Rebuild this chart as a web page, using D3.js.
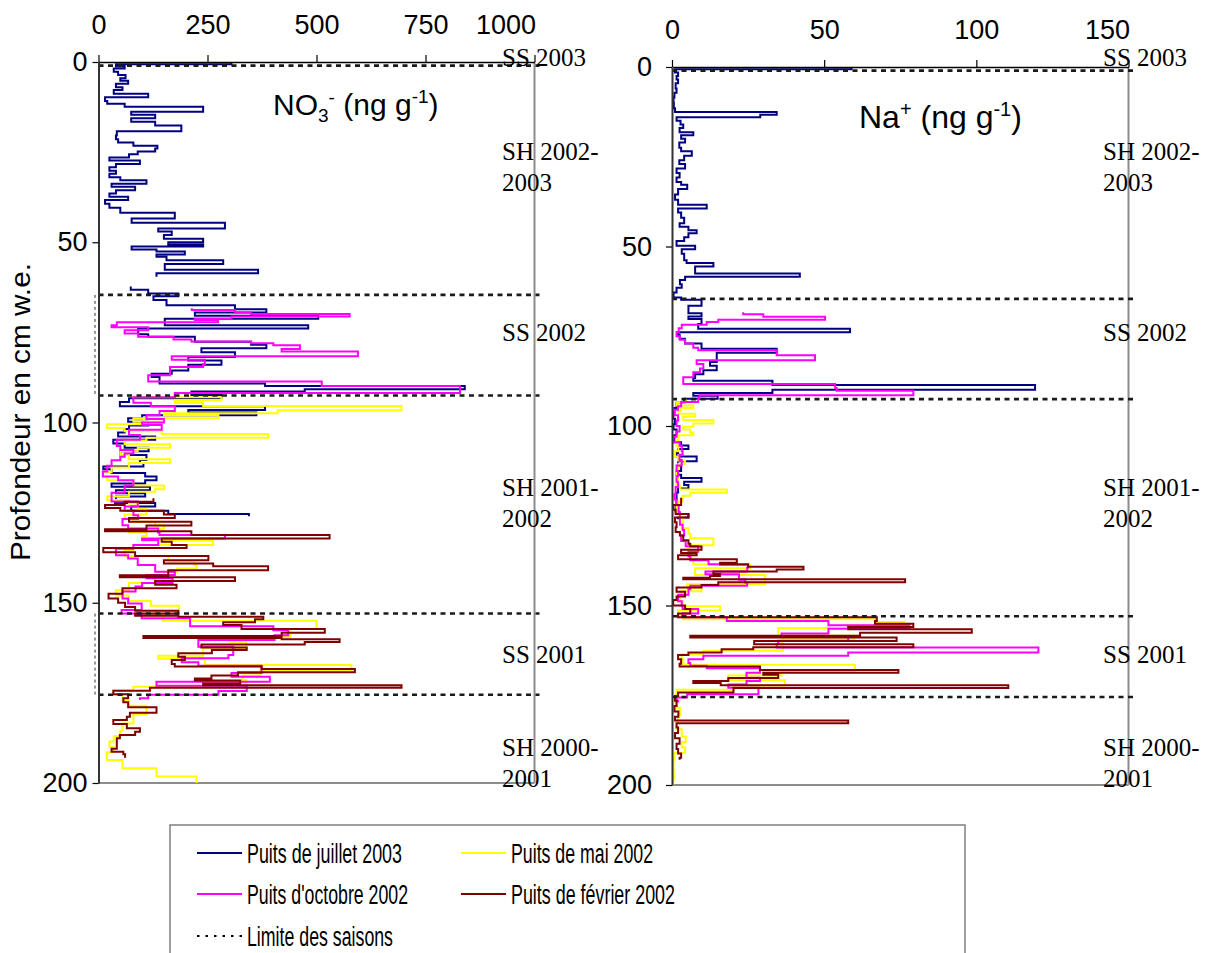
<!DOCTYPE html>
<html><head><meta charset="utf-8">
<script src="https://cdn.jsdelivr.net/npm/d3@7"></script>
<style>body{margin:0;background:#fff}svg{display:block}</style>
</head><body>
<svg id="chart" width="1214" height="953"></svg>
<script>
// ---------- DATA ----------
const depthTicks = [0, 50, 100, 150, 200];
const no3Ticks = [0, 250, 500, 750, 1000];
const naTicks = [0, 50, 100, 150];
const seasonDepths = [1, 64.6, 92.5, 153, 175.5];
const seasonLabels = [
  {lines: ["SS 2003"], depth: -1.1},
  {lines: ["SH 2002-", "2003"], depth: 25},
  {lines: ["SS 2002"], depth: 75.2},
  {lines: ["SH 2001-", "2002"], depth: 118.2},
  {lines: ["SS 2001"], depth: 164.5},
  {lines: ["SH 2000-", "2001"], depth: 190.3}
];
const seriesNames = ["Puits de juillet 2003", "Puits de mai 2002", "Puits d'octobre 2002", "Puits de février 2002"];
const seriesColors = ["#000080", "#FFFF00", "#FF00FF", "#800000"];
const seriesEnd = [126, 200, 177, 193];

// [depth top (cm w.e.), value (ng/g)]
const no3Juillet2003 = [[0,305],[0.6,40],[1.2,60],[1.8,35],[2.7,45],[3.6,62],[4.5,50],[5.2,68],[6,40],[7,55],[7.8,35],[8.8,114],[9.8,15],[10.8,20],[11.6,60],[12.4,240],[13.8,75],[14.6,130],[15.6,75],[16.6,130],[17.6,190],[19.2,42],[20.4,40],[21.4,45],[22.3,80],[23.2,135],[24,130],[24.8,90],[25.6,70],[26.5,25],[27.3,95],[28.3,40],[29.2,25],[30.2,40],[31,25],[32,50],[32.8,110],[33.8,30],[34.6,84],[35.6,40],[36.5,25],[37.4,68],[38.3,15],[39.3,25],[40.4,50],[41.8,175],[43.4,76],[44.6,290],[46.2,137],[47,168],[48,150],[49,240],[50,160],[50.6,240],[51.2,76],[52,133],[52.6,198],[53.4,133],[54,156],[55,286],[56,152],[57.6,366],[58.6,133],[59.6,NaN],[62.3,74],[63.2,114],[64.2,183],[65,126],[66,156],[67.5,313],[68.6,385],[69.5,221],[70.4,504],[71.2,152],[73,481],[73.9,91],[75.5,114],[76.2,221],[77.6,350],[78.4,385],[79.4,236],[80.5,313],[81.8,206],[82.8,282],[84,206],[85.6,168],[86.5,122],[87.4,140],[89.2,382],[89.9,840],[90.8,473],[91.4,213],[92.4,282],[93.3,70],[94.3,49],[95.5,382],[96.5,206],[97.2,362],[98,100],[98.8,68],[99.8,114],[100.8,70],[101.8,60],[102.8,45],[103.9,130],[104.8,34],[105.8,60],[107,115],[108,50],[109,110],[110.4,95],[111.2,103],[112.2,11],[113,30],[114,107],[115,133],[116,107],[116.9,30],[117.8,118],[118.8,40],[119.6,107],[120.5,40],[121.5,38],[122.3,130],[123.3,75],[124.5,160],[125.4,345]];
const no3Mai2002 = [[92.4,80],[93,282],[93.8,175],[94.5,240],[95.4,695],[96.6,411],[97.4,150],[98,275],[98.8,80],[99.8,145],[100.5,20],[101.5,60],[102.4,145],[103.2,389],[104.2,110],[105,60],[106,164],[107,90],[108,50],[109,70],[110.2,164],[111.2,70],[112.5,30],[113.8,10],[115,20],[116,80],[117.5,150],[118.5,130],[119.2,70],[120.5,20],[121.5,70],[122.5,90],[124,110],[125.5,60],[126.5,80],[127.5,130],[128.5,150],[129.5,70],[130.5,110],[131.5,100],[132.8,263],[134,80],[135.5,60],[137,160],[138.5,220],[139.5,225],[140.5,180],[141.5,150],[142.5,130],[144.5,70],[146.5,40],[148,70],[149.5,120],[150.8,185],[152.3,130],[153.4,148],[155,500],[157.3,430],[158,440],[159.5,300],[160.8,339],[162.5,240],[164.7,137],[165.5,244],[167.3,580],[168.8,371],[170.2,330],[171.5,339],[172.2,240],[173.3,80],[174.3,34],[175.5,55],[177.2,70],[178.6,110],[181,80],[183.5,55],[185.5,50],[187,35],[188.5,25],[190,35],[191.5,19],[193.6,55],[195.9,133],[198.2,225]];
const no3Octobre2002 = [[68.3,214],[68.8,313],[69.5,350],[69.9,576],[70.6,305],[71.2,221],[71.6,274],[72.2,42],[73,30],[73.6,114],[74.4,60],[75.3,91],[76.2,172],[77,213],[77.5,350],[78,401],[78.6,462],[79.6,420],[80.3,595],[81.6,168],[82.6,244],[83.8,240],[84.6,164],[85.9,164],[86.9,114],[88.6,512],[89.9,829],[91.8,175],[93,80],[94.5,120],[95.5,175],[96.8,140],[98,110],[99,150],[100,100],[100.7,145],[102,70],[103.5,95],[104.8,42],[106.5,50],[107.6,80],[108.6,60],[109.5,50],[110.5,30],[112,20],[113.6,10],[115,45],[116,80],[117.5,60],[119.5,30],[121.9,90],[123.3,60],[124.5,80],[125.7,91],[126.8,55],[128.5,68],[129.4,137],[130.5,140],[131.2,290],[132.2,100],[132.6,137],[134,80],[135,40],[136.8,68],[137.7,90],[139.5,130],[141.4,175],[142.3,110],[143.2,170],[144.5,100],[145.5,85],[146.9,55],[148.8,68],[150.2,99],[152,53],[153,99],[154.3,210],[156.5,401],[157.6,435],[159,404],[160.3,229],[162.2,309],[164.5,298],[165.4,191],[166.5,229],[167.5,374],[169.5,305],[170.5,393],[171.9,133],[173,340],[174.5,275],[175.5,114],[176.5,95]];
const no3Fevrier2002 = [[121,126],[122,60],[122.9,15],[123.7,50],[124.5,150],[125.5,175],[126.5,70],[127.5,213],[128.6,110],[129.6,15],[130.2,213],[131.2,530],[132.2,145],[133.1,168],[134,202],[134.8,11],[136,84],[137,252],[138.2,150],[139.1,263],[139.9,389],[141,160],[142.4,49],[142.9,313],[144,130],[145,179],[146,55],[147.5,23],[148.8,45],[150,61],[151.2,84],[152.2,183],[153,84],[153.6,183],[153.9,378],[154.6,359],[155.4,286],[156.2,328],[157.3,519],[158.3,420],[159.2,103],[159.8,420],[160.1,553],[160.9,473],[161.6,236],[162.4,340],[163.1,260],[164,183],[165,198],[165.9,168],[167,175],[167.7,374],[168.4,588],[169.3,320],[170.2,259],[171,221],[171.6,325],[172.4,240],[172.9,695],[173.6,118],[174.4,34],[175.4,68],[176.5,57],[177.6,68],[179,133],[180.5,72],[181.6,65],[182.5,34],[183.6,65],[184.8,95],[185.8,84],[186.7,49],[187.6,42],[189,42],[190.5,30],[191.3,57],[192,61]];

const naJuillet2003 = [[0,59],[0.6,1],[1.5,2],[2.5,1.5],[3.5,2],[4.5,1.2],[6,1.5],[7.2,0.8],[8.5,0.5],[10,0.6],[11.5,1],[12.5,34.4],[13.3,29],[14,1.5],[15,2.8],[16,3.7],[17,2.5],[18.2,7],[19,3],[20,4.3],[21,2.4],[22.5,3],[23.5,6.5],[24.7,4],[26,2.4],[27,4.3],[28.3,1.5],[29.5,2.5],[30.8,1.5],[32,3],[32.8,5],[34,2],[35.5,1],[37,2],[38.4,11.4],[39.4,2],[40.5,3],[42,4],[43.5,2.5],[44.5,5.4],[45.5,8.1],[46.3,5.4],[47.4,4],[48.5,1.5],[49.8,7.6],[50.8,3.2],[52,4],[53.8,4.8],[54.6,13.6],[55.6,7.6],[56.5,7.6],[57.5,42],[58.4,4.3],[59.3,2.6],[60.5,3.2],[61.5,1.5],[62.8,0.5],[64.2,3],[64.8,9.7],[66.5,5.4],[67.8,5.4],[68.6,9.7],[69.5,5.4],[70.2,9.7],[71.6,8.6],[72.9,58.5],[73.9,2],[74.6,2.5],[75.7,4.3],[77,9.7],[78.5,34.4],[79.6,14.7],[81,14.7],[82.2,12.5],[83.2,14.7],[84.5,10.3],[85.6,7.6],[86.6,7],[87.4,33],[88.6,119.3],[89.9,33],[90.8,7],[91.6,15],[92.4,4],[93.5,1.5],[95,0.8],[96.5,0.4],[98,1],[99.5,0.5],[101,1.5],[102.6,0.8],[104.5,3],[105.4,5.4],[106.4,2],[107.5,1.5],[108.5,8.1],[109.8,2],[111,3],[112.5,1.5],[113.6,3],[114.5,9.7],[115.5,4],[116.4,5.4],[117.4,2],[118.5,1.5],[120,1.5],[122,1.2],[123.8,2],[124.5,5.4],[125.5,2]];
const naMai2002 = [[92.4,4.5],[93.5,1.5],[94.3,7],[95,3],[95.8,2],[96.6,7.6],[97.4,3.7],[98.3,13.6],[99.3,7],[100.2,3.7],[101,6],[101.8,7],[102.6,2],[104,1.5],[105.5,2.1],[107,1],[108.5,2],[109.6,4.3],[110.5,2.1],[112,1.5],[113.8,2],[115,1.5],[116.5,2.6],[117.7,18],[118.6,6],[119.4,3.5],[121,2],[122.5,1.5],[124,2.5],[125.5,3.7],[127,3.2],[128.5,5.4],[130,6],[131.3,13.6],[133.2,5.4],[134.5,5.4],[135.8,6],[137,7],[138.6,25.6],[139.6,7.6],[141.5,30.6],[144.1,5],[145,9.7],[146,3],[147.4,2.5],[148.8,3.7],[150.2,15.8],[151.4,2],[152.5,3.7],[153.8,67.3],[154.6,76.4],[155.6,57.9],[156.3,34.9],[158.4,60],[159.5,36],[161,36.5],[162.6,10.3],[163.6,3.2],[165,3.7],[166.5,60.1],[168.3,36],[169.5,18.5],[170.8,37.1],[172.3,20.2],[173.5,1.5],[174.8,1.2],[177,1.5],[178.5,2.6],[180.5,2],[182.5,1.5],[184.5,3.2],[186.5,4.5],[188,3.2],[189.5,4.3],[191,0.8],[193,0.5],[196,0.6],[198.5,0.4]];
const naOctobre2002 = [[68.3,23.4],[68.9,30],[69.6,50.3],[70.4,15.2],[71,11.4],[71.8,3.2],[72.8,2.2],[73.8,1.5],[75,2.6],[76,4.3],[77,7],[78.2,8.6],[78.9,34.4],[80.3,47],[81.7,8.1],[82.7,10.3],[84,9.2],[85,7],[86.4,3.7],[88.3,53.6],[89.4,54.1],[90.2,79.3],[91.4,9],[92.2,8.6],[93.3,3],[94.5,2],[95.5,0.8],[97,2],[98.5,1.5],[100,2.5],[101.5,1.5],[103,0.5],[104.5,2.5],[105.5,3.2],[107,3.5],[108,2.5],[109.5,3.2],[111,1.5],[112.5,2],[114,1.5],[115.5,2],[117,1.2],[119,0.8],[120.5,1.5],[122,2.2],[124,2.6],[126,2.6],[127.5,3.5],[129,4],[130.5,3],[132,4.5],[133.5,8.6],[135,5.4],[136.3,6],[137.4,12],[138.5,25],[139.5,24.7],[140.5,11],[141.3,22],[142.8,24],[143.6,24.7],[144.5,6],[145.5,5.4],[147,2],[148.8,3.2],[150.2,3.5],[151,8.6],[152.2,3.5],[153.3,18],[154.3,51.4],[155.5,78],[156.5,51.4],[157.8,36],[158.5,57.9],[159.8,34.9],[160.8,34.4],[161.7,120.4],[163.1,57.9],[164,10.3],[165,5.4],[166,6],[166.8,11.4],[167.5,28.9],[168.7,24.5],[170.1,28.9],[171,24.5],[172,18.5],[172.9,28.4],[174.7,5],[175.6,1.5],[176.5,2]];
const naFevrier2002 = [[120,3],[122,0.4],[123.3,1.2],[124.5,5.4],[125.5,1],[126.8,1.5],[128.2,1.2],[129.5,2.6],[130.5,3.7],[131.8,5.4],[132.8,6],[133.6,9.7],[134.5,3],[135.4,8.1],[136,2],[137.1,21.3],[138.1,15.8],[138.6,25],[139.2,43.2],[140,34.4],[140.5,13.6],[141.2,15.8],[141.8,12.5],[142.3,3.7],[142.7,76.6],[143.5,15.2],[144.3,9.7],[145,1.5],[146.2,4.3],[147.5,1.5],[148.5,0.4],[150,4.3],[151,6],[152.2,2],[153.3,67.3],[154.3,66.7],[155.1,79.3],[156,57.9],[156.6,98.5],[157.6,61.8],[158.4,6],[158.9,73.8],[159.9,27],[160.8,79.3],[161.6,26.7],[162.2,16.3],[163.1,5.4],[163.8,2],[165,3],[166.2,2.5],[167,28.9],[168,74.4],[168.7,30],[169.3,34.9],[170.2,18.5],[171,7],[171.6,16],[172.2,110.5],[173,20.2],[174.2,2],[175.2,1],[176.5,1.5],[178,0.8],[179.5,2.1],[181,1],[182,57.9],[182.8,1.5],[184,2],[185.5,1],[187,2.5],[188.5,1.5],[190,2],[191.2,3],[192.4,2.5]];

// ---------- DRAW ----------
const svg = d3.select("#chart");
const FONT = "'Liberation Sans', Arial, sans-serif";
const SERIF = "'Liberation Serif', 'Times New Roman', serif";

function stepPoints(samples, endDepth) {
  const pts = [];
  for (let i = 0; i < samples.length; i++) {
    const [d, v] = samples[i];
    const next = samples[i + 1];
    pts.push([d, v]);
    if (!isNaN(v) && (next === undefined || isNaN(next[1]))) {
      pts.push([next ? next[0] : endDepth, v]);
    }
  }
  return pts;
}

function panel(cfg) {
  const g = svg.append("g");
  const x = d3.scaleLinear().domain(cfg.domain).range(cfg.xRange);
  const y = d3.scaleLinear().domain([0, 200]).range(cfg.yRange);

  g.append("line").attr("x1", x.range()[1]).attr("x2", x.range()[1]).attr("y1", y(0)).attr("y2", y(200))
    .attr("stroke", "#8c8c8c").attr("stroke-width", 2);
  g.append("line").attr("x1", x.range()[0]).attr("x2", x.range()[1]).attr("y1", y(200)).attr("y2", y(200))
    .attr("stroke", "#8c8c8c").attr("stroke-width", 2);

  const line = d3.line()
    .defined(p => !isNaN(p[1]))
    .x(p => x(p[1])).y(p => y(p[0]))
    .curve(d3.curveStepBefore);

  cfg.series.forEach((s, i) => {
    g.append("path")
      .attr("d", line(stepPoints(s, seriesEnd[i])))
      .attr("fill", "none")
      .attr("stroke", seriesColors[i])
      .attr("stroke-width", 2);
  });

  seasonDepths.forEach(d => {
    g.append("line")
      .attr("x1", x.range()[0]).attr("x2", x.range()[1] + cfg.dashExtra)
      .attr("y1", y(d)).attr("y2", y(d))
      .attr("stroke", "#1a1a1a").attr("stroke-width", 2.6)
      .attr("stroke-dasharray", "5,4.5");
  });

  const top = g.append("g").attr("transform", `translate(0,${y(0)})`)
    .call(d3.axisTop(x).tickValues(cfg.ticks).tickSize(7).tickSizeOuter(0).tickPadding(21).tickFormat(d3.format("d")));
  top.select(".domain").attr("stroke", "#000").attr("stroke-width", 1.5);
  top.selectAll(".tick line").attr("stroke", "#000").attr("stroke-width", 1.2);
  top.selectAll(".tick text").attr("font-family", FONT).attr("font-size", 27).attr("fill", "#000");
  top.selectAll(".tick:last-of-type text").attr("text-anchor", "end").attr("x", 1);

  const left = g.append("g").attr("transform", `translate(${x.range()[0]},0)`)
    .call(d3.axisLeft(y).tickValues(depthTicks).tickSize(6).tickSizeOuter(0).tickPadding(cfg.yPad).tickFormat(d3.format("d")));
  left.select(".domain").attr("stroke", "#333").attr("stroke-width", 2);
  left.selectAll(".tick line").attr("stroke", "#000").attr("stroke-width", 1.2);
  left.selectAll(".tick text").attr("font-family", FONT).attr("font-size", 27).attr("fill", "#000");

  const yl = d3.scaleLinear().domain([0, 200]).range([62, 783]);
  seasonLabels.forEach(s => {
    s.lines.forEach((t, k) => {
      g.append("text").attr("x", cfg.labelX).attr("y", yl(s.depth) + 8 + k * 31)
        .attr("font-family", SERIF).attr("font-size", 25).attr("fill", "#000").text(t);
    });
  });
  return {x, y, g};
}

const P1 = panel({domain: [0, 1000], xRange: [98.5, 534.5], yRange: [62, 783], ticks: no3Ticks,
  series: [no3Juillet2003, no3Mai2002, no3Octobre2002, no3Fevrier2002], labelX: 502, yPad: 5, dashExtra: 5});
const P2 = panel({domain: [0, 150], xRange: [672, 1128.5], yRange: [67, 785], ticks: naTicks,
  series: [naJuillet2003, naMai2002, naOctobre2002, naFevrier2002], labelX: 1103, yPad: 14, dashExtra: 5});

[[seasonDepths[1], seasonDepths[2]], [seasonDepths[3], seasonDepths[4]]].forEach(([a, b]) => {
  svg.append("line").attr("x1", 95).attr("x2", 95).attr("y1", P1.y(a)).attr("y2", P1.y(b))
    .attr("stroke", "#333").attr("stroke-width", 1).attr("stroke-dasharray", "3,3");
});

// panel titles
const t1 = svg.append("text").attr("x", 273).attr("y", 115).attr("font-family", FONT).attr("font-size", 30).attr("fill", "#000");
t1.append("tspan").text("NO");
t1.append("tspan").attr("font-size", 19).attr("dy", 7).text("3");
t1.append("tspan").attr("font-size", 19).attr("dy", -18).text("-");
t1.append("tspan").attr("dy", 11).text(" (ng g");
t1.append("tspan").attr("font-size", 19).attr("dy", -12).text("-1");
t1.append("tspan").attr("dy", 12).text(")");

const t2 = svg.append("text").attr("x", 859).attr("y", 128).attr("font-family", FONT).attr("font-size", 32).attr("fill", "#000");
t2.append("tspan").text("Na");
t2.append("tspan").attr("font-size", 20).attr("dy", -12).text("+");
t2.append("tspan").attr("dy", 12).text(" (ng g");
t2.append("tspan").attr("font-size", 20).attr("dy", -12).text("-1");
t2.append("tspan").attr("dy", 12).text(")");

// y axis title
svg.append("text").attr("transform", "translate(30,412) rotate(-90)")
  .attr("text-anchor", "middle").attr("font-family", FONT).attr("font-size", 27)
  .attr("textLength", 298).attr("lengthAdjust", "spacingAndGlyphs")
  .text("Profondeur en cm w.e.");

// legend
const lg = svg.append("g");
lg.append("rect").attr("x", 170).attr("y", 825).attr("width", 795).attr("height", 140)
  .attr("fill", "#fff").attr("stroke", "#7f7f7f").attr("stroke-width", 1.5);
const legendItems = [
  {name: seriesNames[0], color: seriesColors[0], col: 0, row: 0, len: 155},
  {name: seriesNames[1], color: seriesColors[1], col: 1, row: 0, len: 142},
  {name: seriesNames[2], color: seriesColors[2], col: 0, row: 1, len: 161},
  {name: seriesNames[3], color: seriesColors[3], col: 1, row: 1, len: 164},
  {name: "Limite des saisons", color: "#000", col: 0, row: 2, len: 146, dotted: true}
];
const colX = [197, 461], rowY = [853, 894, 936];
legendItems.forEach(it => {
  const lx = colX[it.col], ly = rowY[it.row];
  lg.append("line").attr("x1", lx).attr("x2", lx + 45).attr("y1", ly).attr("y2", ly)
    .attr("stroke", it.color).attr("stroke-width", 2)
    .attr("stroke-dasharray", it.dotted ? "2.5,6" : null);
  lg.append("text").attr("x", lx + 50).attr("y", ly + 10)
    .attr("font-family", FONT).attr("font-size", 27)
    .attr("textLength", it.len).attr("lengthAdjust", "spacingAndGlyphs")
    .text(it.name);
});
</script>
</body></html>
